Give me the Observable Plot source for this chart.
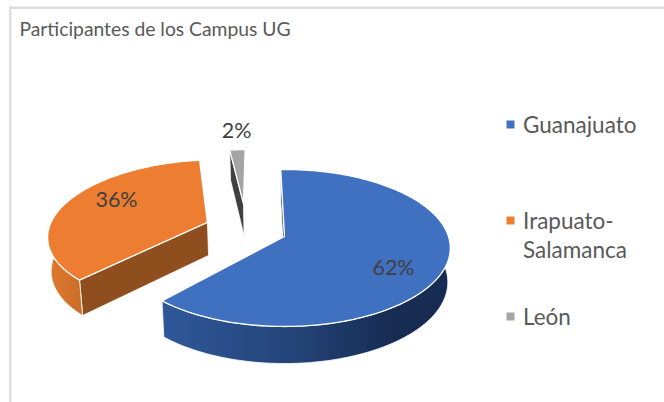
<!DOCTYPE html>
<html>
<head>
<meta charset="utf-8">
<style>html,body{margin:0;padding:0;background:#fff}svg{display:block}</style>
<script src="https://cdn.jsdelivr.net/npm/d3@7"></script>
<script src="https://cdn.jsdelivr.net/npm/@observablehq/plot@0.6"></script>
</head>
<body>
<div id="chart"></div>
<script>
const title = "Participantes de los Campus UG";
const categories = ["Guanajuato", "Irapuato-Salamanca", "León"];
const shares = [62, 36, 2];
const topColors = ["#4070c0", "#ed7d31", "#a5a5a5"];
const edgeColors = ["#1f3864", "#8f4e1d", "#404040"];

// view of the tilted pie
const cx = 284, cy = 236, R = 164, S = 76.8, k = 0.1465, kDepth = 0.09, D = 33.7, lowerScale = 0.985;
const firstAngle = -1.5;
const rotations = [0, 1.5, 0.2];
const offsets = [[0, 0], [-0.483, 0.19], [-0.267, 0.458]];
const radii = [1, 0.98, 0.9];

const rad = Math.PI / 180;
function project(X, Z, lower) {
  const w = 1 + k * Z;
  const px = R * X / w, py = -S * Z / w;
  if (!lower) return {x: cx + px, y: cy + py};
  return {x: cx + lowerScale * px, y: cy + py + D / (1 + kDepth * Z)};
}
let running = firstAngle;
const slices = shares.map((s, i) => {
  const a0 = running + rotations[i];
  const a1 = a0 + s * 3.6;
  running += s * 3.6;
  return {i, a0, a1, ox: offsets[i][0], oz: offsets[i][1], r: radii[i]};
});
const rim = (sl, a, lower) => project(sl.ox + sl.r * Math.sin(a * rad), sl.oz + sl.r * Math.cos(a * rad), lower);
const apex = (sl, lower) => project(sl.ox, sl.oz, lower);
const arc = (sl, from, to, lower) => {
  const n = Math.max(2, Math.ceil(Math.abs(to - from)));
  return d3.range(n + 1).map(j => rim(sl, from + (to - from) * j / n, lower));
};
const closed = pts => [...pts, pts[0]];
const topFace = sl => closed([apex(sl), ...arc(sl, sl.a0, sl.a1)]);
const edgeWall = sl => closed([apex(sl), rim(sl, sl.a0), rim(sl, sl.a0, true), apex(sl, true)]);
const outerWall = sl => {
  const a = Math.max(sl.a0, 85), b = Math.min(sl.a1, 275);
  if (b <= a) return null;
  return closed([...arc(sl, a, b), ...arc(sl, b, a, true)]);
};
const poly = (pts, fill, sw = 1.3) => Plot.line(pts, {x: "x", y: "y", fill, stroke: "#fff", strokeWidth: sw, strokeLinejoin: "round", curve: "linear"});

const defs = () => {
  const d = d3.create("svg:defs");
  const g = (id, stops) => {
    const lg = d.append("linearGradient").attr("id", id);
    stops.forEach(([o, c]) => lg.append("stop").attr("offset", o).attr("stop-color", c));
  };
  g("wallBlue", [[0, "#2f5899"], [0.45, "#244479"], [0.8, "#172c52"], [1, "#172c52"]]);
  g("wallOrange", [[0, "#e07a2f"], [1, "#c96d28"]]);
  return d.node();
};

const wallFills = ["url(#wallBlue)", "url(#wallOrange)", "#404040"];
const marks = [defs];
marks.push(Plot.ruleY([7.3], {x1: 9, x2: 664, stroke: "#dedede", strokeWidth: 2.5}));
marks.push(Plot.ruleX([9.7], {y1: 6, y2: 402, stroke: "#dedede", strokeWidth: 2.5}));
// painter's order: León, Irapuato-Salamanca, Guanajuato
[2, 1, 0].forEach(i => {
  const sl = slices[i];
  marks.push(poly(edgeWall(sl), edgeColors[i], 0.8));
  const w = outerWall(sl);
  if (w) marks.push(poly(w, wallFills[i], 0.8));
  marks.push(poly(topFace(sl), topColors[i], 1.3));
});

const pctLabels = [{x: 393, y: 268, t: shares[0]}, {x: 116, y: 200, t: shares[1]}, {x: 236, y: 131, t: shares[2]}];
marks.push(Plot.text(pctLabels, {x: "x", y: "y", text: d => d.t + "%", fontSize: 21.5, fontFamily: "Lato", fill: "#404040"}));

const legend = categories.map((c, i) => ({c, color: topColors[i], y: [124, 220, 316][i]}));
marks.push(Plot.dot(legend, {x: () => 510, y: "y", symbol: "square", r: 4.5, fill: d => d.color}));
marks.push(Plot.text(legend, {x: () => 522.5, y: d => d.y + (d.c.includes("-") ? 15 : 0) - 1, text: d => d.c.replace("-", "-\n"), textAnchor: "start", fontSize: 22.5, lineHeight: 1.25, fontFamily: "Lato", fill: "#595959"}));
marks.push(Plot.text([title], {x: () => 19, y: () => 29, text: d => d, textAnchor: "start", fontSize: 19.3, fontFamily: "Lato", fill: "#595959"}));

const chart = Plot.plot({
  width: 664, height: 402, margin: 0,
  x: {domain: [0, 664], range: [0, 664], axis: null},
  y: {domain: [0, 402], range: [0, 402], axis: null},
  color: {type: "identity"},
  marks
});
document.getElementById("chart").append(chart);
</script>
</body>
</html>
